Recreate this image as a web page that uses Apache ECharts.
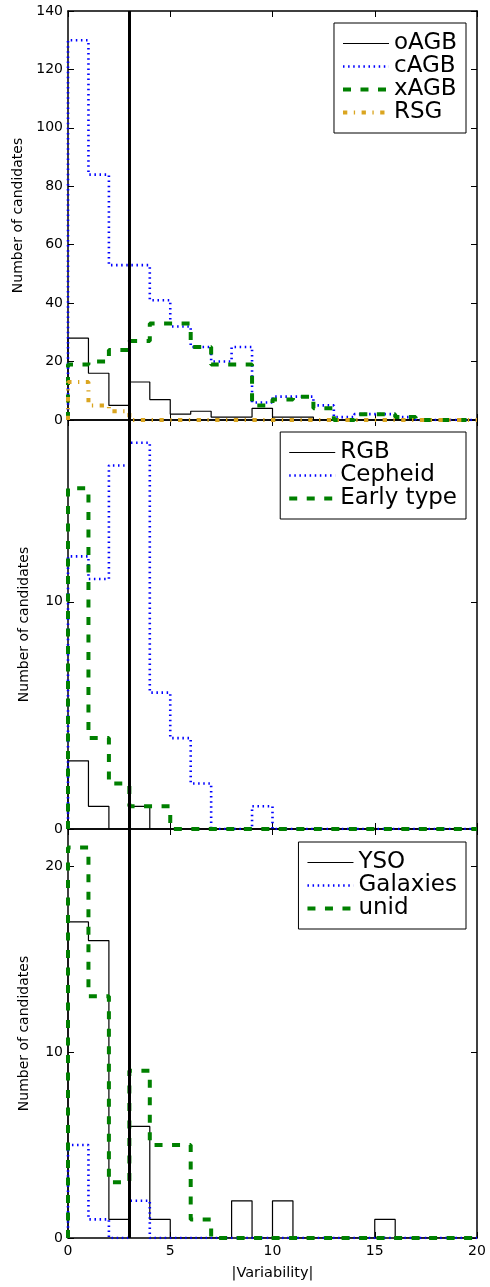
<!DOCTYPE html>
<html>
<head>
<meta charset="utf-8">
<script src="https://cdn.jsdelivr.net/npm/echarts@6/dist/echarts.min.js"></script>
<style>
  html, body { margin: 0; padding: 0; background: #fff; }
  #chart { width: 490px; height: 1287px; }
</style>
</head>
<body>
<div id="chart"></div>
<script>
// Histogram bins: |Variability| from 0 to 20 in unit-wide bins
const binStart = 0;
const binWidth = 1;
const binCount = 20;
const xTicks = [0, 5, 10, 15, 20];

// Variability cut shown as a thick vertical line
const variabilityCut = 3;

// Panel 1: AGB / RSG counts per bin
const oAGB = [28, 16, 5, 13, 7, 2, 3, 1, 1, 4, 1, 1, 0, 0, 0, 0, 0, 0, 0, 0];
const cAGB = [130, 84, 53, 53, 41, 32, 25, 20, 25, 6, 8, 8, 5, 1, 2, 2, 1, 0, 0, 0];
const xAGB = [19, 20, 24, 27, 33, 33, 25, 19, 19, 5, 7, 8, 4, 0, 2, 2, 1, 0, 0, 0];
const RSG = [13, 5, 3, 0, 0, 0, 0, 0, 0, 0, 0, 0, 0, 0, 0, 0, 0, 0, 0, 0];

// Panel 2: RGB, Cepheid, early type
const RGB = [3, 1, 0, 1, 0, 0, 0, 0, 0, 0, 0, 0, 0, 0, 0, 0, 0, 0, 0, 0];
const Cepheid = [12, 11, 16, 17, 6, 4, 2, 0, 0, 1, 0, 0, 0, 0, 0, 0, 0, 0, 0, 0];
const EarlyType = [15, 4, 2, 1, 1, 0, 0, 0, 0, 0, 0, 0, 0, 0, 0, 0, 0, 0, 0, 0];

// Panel 3: YSO, galaxies, unidentified
const YSO = [17, 16, 1, 6, 1, 0, 0, 0, 2, 0, 2, 0, 0, 0, 0, 1, 0, 0, 0, 0];
const Galaxies = [5, 1, 0, 2, 0, 0, 0, 0, 0, 0, 0, 0, 0, 0, 0, 0, 0, 0, 0, 0];
const unid = [21, 13, 3, 9, 5, 5, 1, 0, 0, 0, 0, 0, 0, 0, 0, 0, 0, 0, 0, 0];

// y-axis ranges and tick labels per panel
const yMax = [140, 18, 22];
const yTickValues = [
  [0, 20, 40, 60, 80, 100, 120, 140],
  [0, 10],
  [0, 10, 20]
];

// Turn bin counts into outline points for a step line (closed down to zero at both ends)
function stepPoints(counts) {
  const pts = [[binStart, 0]];
  for (let i = 0; i < binCount; i++) {
    pts.push([binStart + i * binWidth, counts[i]]);
  }
  pts.push([binStart + binCount * binWidth, counts[binCount - 1]]);
  pts.push([binStart + binCount * binWidth, 0]);
  return pts;
}

const FONT = 'DejaVu Sans';
const styles = {
  solid:  { color: '#000000', width: 1.2, type: 'solid' },
  dotted: { color: '#0000ff', width: 2.6, type: [1.5, 3.6] },
  dashed: { color: '#008000', width: 4, type: [8, 9.5] },
  dashdot:{ color: '#daa520', width: 4, type: [4.3, 6.5, 1.3, 6.5] }
};

const panels = [
  { series: [['oAGB', oAGB, 'solid'], ['cAGB', cAGB, 'dotted'], ['xAGB', xAGB, 'dashed'], ['RSG', RSG, 'dashdot']], legendTop: 23 },
  { series: [['RGB', RGB, 'solid'], ['Cepheid', Cepheid, 'dotted'], ['Early type', EarlyType, 'dashed']], legendTop: 432 },
  { series: [['YSO', YSO, 'solid'], ['Galaxies', Galaxies, 'dotted'], ['unid', unid, 'dashed']], legendTop: 842 }
];

const gridTop = 11, gridH = 409;
const grids = [], xAxes = [], yAxes = [], series = [], legends = [];

const axisLine = { show: true, onZero: false, lineStyle: { color: '#000', width: 1.5 } };
const axisTick = { show: true, inside: true, length: 6, lineStyle: { color: '#000', width: 1 } };

panels.forEach((p, g) => {
  grids.push({ left: 68, width: 409, top: gridTop + g * gridH, height: gridH });
  const isBottom = g === panels.length - 1;

  xAxes.push({
    type: 'value', gridIndex: g, position: 'bottom', min: 0, max: 20, interval: 5,
    axisLine, axisTick,
    axisLabel: { show: isBottom, color: '#000', fontFamily: FONT, fontSize: 14, margin: 6,
                 customValues: xTicks },
    splitLine: { show: false },
    name: isBottom ? '|Variability|' : '',
    nameLocation: 'middle', nameGap: 28,
    nameTextStyle: { color: '#000', fontFamily: FONT, fontSize: 14.5 }
  });
  xAxes.push({
    type: 'value', gridIndex: g, position: 'top', min: 0, max: 20, interval: 5,
    axisLine, axisTick, axisLabel: { show: false }, splitLine: { show: false }
  });

  yAxes.push({
    type: 'value', gridIndex: g, position: 'left', min: 0, max: yMax[g],
    axisLine,
    axisTick: Object.assign({}, axisTick, { customValues: yTickValues[g] }),
    axisLabel: { color: '#000', fontFamily: FONT, fontSize: 14, margin: 5,
                 customValues: yTickValues[g] },
    splitLine: { show: false },
    name: 'Number of candidates', nameLocation: 'middle', nameGap: 37, nameRotate: 90,
    nameTextStyle: { color: '#000', fontFamily: FONT, fontSize: 14 }
  });
  yAxes.push({
    type: 'value', gridIndex: g, position: 'right', min: 0, max: yMax[g],
    axisLine,
    axisTick: Object.assign({}, axisTick, { customValues: yTickValues[g] }),
    axisLabel: { show: false }, splitLine: { show: false }
  });

  p.series.forEach(([name, counts, kind], k) => {
    const s = {
      type: 'line', name, xAxisIndex: 2 * g, yAxisIndex: 2 * g,
      data: stepPoints(counts), step: 'end', symbol: 'none', showSymbol: false,
      lineStyle: Object.assign({}, styles[kind]),
      itemStyle: { color: styles[kind].color },
      emphasis: { disabled: true }
    };
    if (k === 0) {
      s.markLine = {
        silent: true, symbol: 'none', label: { show: false },
        lineStyle: { color: '#000', width: 3, type: 'solid' },
        data: [{ xAxis: variabilityCut }], z: 10
      };
    }
    series.push(s);
  });

  legends.push({
    data: p.series.map(s => s[0]),
    orient: 'vertical', right: 24, top: p.legendTop,
    backgroundColor: '#fff', borderColor: '#000', borderWidth: 1, borderRadius: 0,
    padding: [9, 9, 9, 7], itemGap: 0, itemWidth: 46, itemHeight: 14,
    selectedMode: false,
    // line samples only, no marker in the middle
    itemStyle: { color: 'rgba(0,0,0,0)', borderColor: 'rgba(0,0,0,0)', borderWidth: 0 },
    lineStyle: { width: 'inherit' },
    textStyle: { color: '#000', fontFamily: FONT, fontSize: 23, lineHeight: 22 }
  });
});

const chart = echarts.init(document.getElementById('chart'), null, { renderer: 'canvas' });
chart.setOption({
  animation: false,
  backgroundColor: '#fff',
  grid: grids,
  xAxis: xAxes,
  yAxis: yAxes,
  legend: legends,
  series
});
</script>
</body>
</html>
